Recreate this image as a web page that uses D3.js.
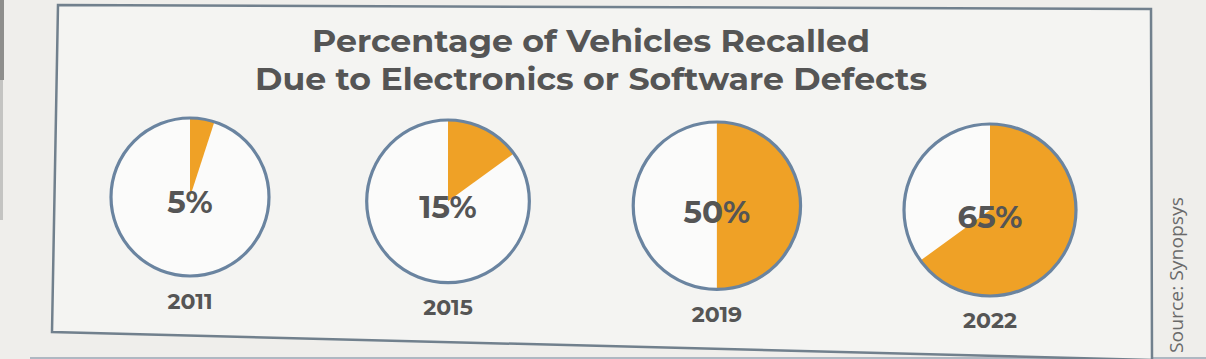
<!DOCTYPE html>
<html><head><meta charset="utf-8">
<script src="https://cdn.jsdelivr.net/npm/d3@7"></script>
<style>html,body{margin:0;padding:0;background:#efeeeb;}svg{display:block;}</style>
</head><body>
<script>
const years = ["2011", "2015", "2019", "2022"];
const percents = [5, 15, 50, 65];
const titleLines = ["Percentage of Vehicles Recalled", "Due to Electronics or Software Defects"];
const sourceText = "Source: Synopsys";

const W = 1206, H = 359;
const svg = d3.select("body").append("svg").attr("width", W).attr("height", H);

svg.append("rect").attr("width", W).attr("height", H).attr("fill", "#efeeeb");
svg.append("rect").attr("x", 0).attr("y", 0).attr("width", 4).attr("height", 80).attr("fill", "#8e8e8c");
svg.append("rect").attr("x", 0).attr("y", 80).attr("width", 3).attr("height", 140).attr("fill", "#c4c4c2");
svg.append("line").attr("x1", 30).attr("x2", 1206).attr("y1", 358).attr("y2", 358)
  .attr("stroke", "#9aa6b4").attr("stroke-width", 1.5);
// frame (slightly skewed by photo perspective)
svg.append("path").attr("d", "M58,5 L1151,9 L1152,360 L52,332 Z")
  .attr("fill", "#f4f4f2").attr("stroke", "#71808d").attr("stroke-width", 2.5);

const font = "Montserrat, 'DejaVu Sans', sans-serif";
const tW = [558, 672];
svg.selectAll("text.title").data(titleLines).join("text").attr("class", "title")
  .attr("x", 591).attr("y", (d, i) => 52 + i * 38)
  .attr("text-anchor", "middle").attr("font-family", font).attr("font-weight", 700)
  .attr("font-size", 31).attr("fill", "#555555")
  .attr("textLength", (d, i) => tW[i]).attr("lengthAdjust", "spacingAndGlyphs")
  .text(d => d);

const idx = d3.scaleOrdinal().domain(years).range(d3.range(years.length));
const x = d3.scalePow().exponent(1.03).domain([0, 3]).range([190, 990]);
const cy = d3.scaleLinear().domain([0, 3]).range([197, 210]);
const rS = d3.scaleLinear().domain([0, 3]).range([79, 86]);
const angle = d3.scaleLinear().domain([0, 100]).range([0, 2 * Math.PI]);

const g = svg.selectAll("g.pie").data(years.map((y, i) => ({ year: y, p: percents[i], i: idx(y) })))
  .join("g").attr("class", "pie")
  .attr("transform", d => `translate(${x(d.i)},${cy(d.i)})`);

g.append("circle").attr("r", d => rS(d.i)).attr("fill", "#fbfbfa");
g.append("path").attr("fill", "#efa126")
  .attr("d", d => d3.arc().innerRadius(0).outerRadius(rS(d.i)).startAngle(0).endAngle(angle(d.p))());
g.append("circle").attr("r", d => rS(d.i)).attr("fill", "none")
  .attr("stroke", "#6a84a0").attr("stroke-width", 3.2);

g.append("text").attr("y", d => 16 + d.i * 0.8).attr("text-anchor", "middle")
  .attr("font-family", font).attr("font-weight", 700).attr("font-size", 31).attr("fill", "#555555")
  .text(d => d.p + "%");

g.append("text").attr("y", d => 112 + d.i * 2).attr("text-anchor", "middle")
  .attr("font-family", font).attr("font-weight", 700).attr("font-size", 22).attr("fill", "#555555")
  .text(d => d.year);

svg.append("text").attr("transform", "translate(1183,275) rotate(-90)")
  .attr("text-anchor", "middle").attr("font-family", "'Open Sans', sans-serif")
  .attr("font-size", 18).attr("fill", "#6a6a6a")
  .attr("textLength", 156).attr("lengthAdjust", "spacingAndGlyphs")
  .text(sourceText);
</script>
</body></html>
